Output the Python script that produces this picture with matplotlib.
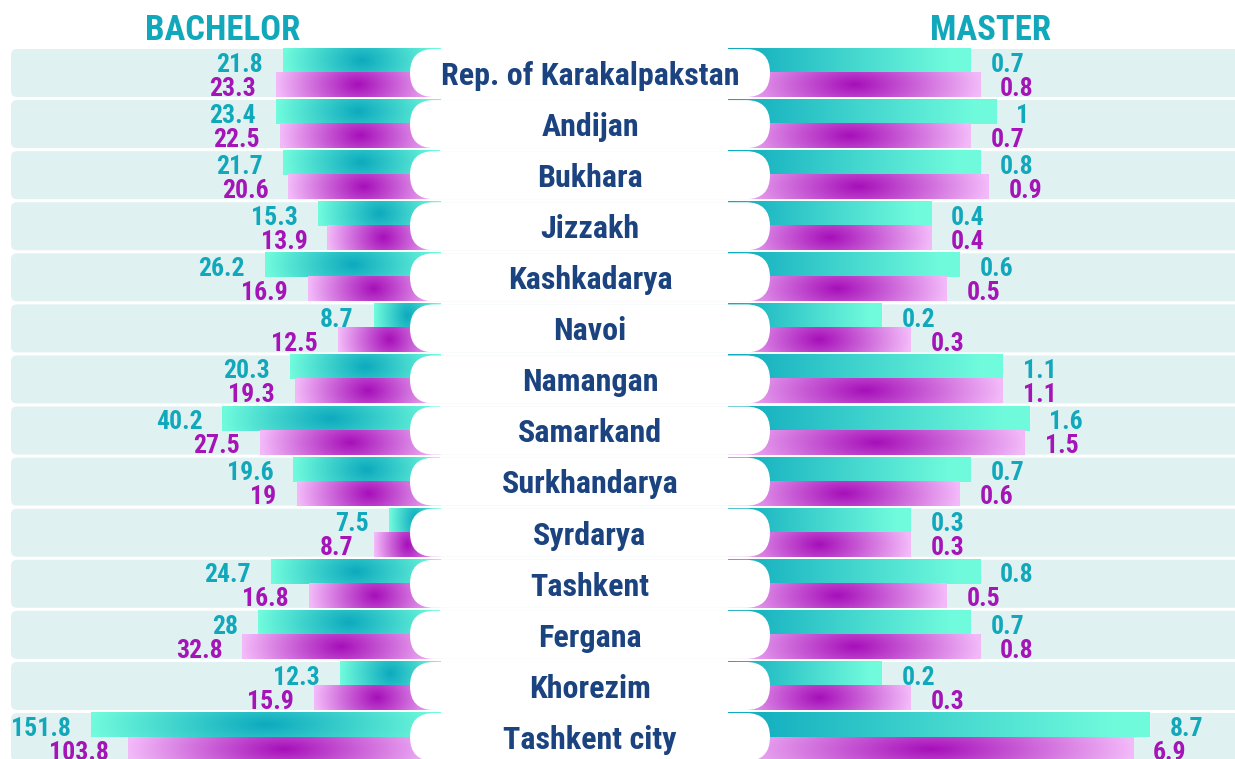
import numpy as np
import matplotlib
matplotlib.use("Agg")
import matplotlib.pyplot as plt
from matplotlib.patches import FancyBboxPatch
from matplotlib import font_manager
from matplotlib.colors import to_rgb

# ---------------- data ----------------
regions = ["Rep. of Karakalpakstan", "Andijan", "Bukhara", "Jizzakh", "Kashkadarya",
           "Navoi", "Namangan", "Samarkand", "Surkhandarya", "Syrdarya", "Tashkent",
           "Fergana", "Khorezim", "Tashkent city"]
bachelor_a = [21.8, 23.4, 21.7, 15.3, 26.2, 8.7, 20.3, 40.2, 19.6, 7.5, 24.7, 28, 12.3, 151.8]
bachelor_b = [23.3, 22.5, 20.6, 13.9, 16.9, 12.5, 19.3, 27.5, 19, 8.7, 16.8, 32.8, 15.9, 103.8]
master_a = [0.7, 1, 0.8, 0.4, 0.6, 0.2, 1.1, 1.6, 0.7, 0.3, 0.8, 0.7, 0.2, 8.7]
master_b = [0.8, 0.7, 0.9, 0.4, 0.5, 0.3, 1.1, 1.5, 0.6, 0.3, 0.5, 0.8, 0.3, 6.9]
panel_titles = ["BACHELOR", "MASTER"]

# ---------------- style ----------------
TEAL_TXT = "#12a8bb"
PURP_TXT = "#a414b6"
NAVY = "#1b4380"
ROW_BG = "#e0f1f1"
TEAL_DARK, TEAL_LIGHT = to_rgb("#0daabe"), to_rgb("#70fbdc")
PURP_DARK, PURP_LIGHT = to_rgb("#a60fb9"), to_rgb("#f3baf9")

names = {f.name for f in font_manager.fontManager.ttflist}
if "Roboto Condensed" in names:
    FAM = "Roboto Condensed"
    FS_TITLE, FS_VAL, FS_NAME = 25, 18.5, 23
else:
    FAM = "Roboto"
    FS_TITLE, FS_VAL, FS_NAME = 22, 17, 19

W, H = 1235, 759
fig = plt.figure(figsize=(W / 100, H / 100), dpi=100)
fig.patch.set_facecolor("white")

n = len(regions)
pitch = 51.08
top_c = 73.0
ax_top = top_c - pitch / 2
ax_h = n * pitch
y_bottom_frac = (H - (ax_top + ax_h)) / H
h_frac = ax_h / H

# background axes (pixel coords)
bg = fig.add_axes([0, 0, 1, 1], zorder=0)
bg.set_xlim(0, W); bg.set_ylim(0, H); bg.axis("off")

# data axes
axL = fig.add_axes([0, y_bottom_frac, 440 / W, h_frac], zorder=1)
axR = fig.add_axes([728 / W, y_bottom_frac, (W - 728) / W, h_frac], zorder=1)
for ax in (axL, axR):
    ax.set_xscale("log")
    ax.set_ylim(n - 0.5, -0.5)
    ax.axis("off")
axL.set_xlim(379.6, 4.46)
axR.set_xlim(0.0229, 28.97)

# overlay axes (pixel coords)
ov = fig.add_axes([0, 0, 1, 1], zorder=2)
ov.axis("off")

ypos = np.arange(n)
bh = 0.47

baseL = axL.get_xlim()[1]
baseR = axR.get_xlim()[0]
barsLa = axL.barh(ypos - bh / 2, np.array(bachelor_a) - baseL, left=baseL, height=bh,
                  color=TEAL_LIGHT, linewidth=0)
barsLb = axL.barh(ypos + bh / 2, np.array(bachelor_b) - baseL, left=baseL, height=bh,
                  color=PURP_LIGHT, linewidth=0)
barsRa = axR.barh(ypos - bh / 2, np.array(master_a) - baseR, left=baseR, height=bh,
                  color=TEAL_LIGHT, linewidth=0)
barsRb = axR.barh(ypos + bh / 2, np.array(master_b) - baseR, left=baseR, height=bh,
                  color=PURP_LIGHT, linewidth=0)


def gradient_image(patch, dark, light, mode):
    bb = patch.get_window_extent()
    x0, x1, y0, y1 = bb.x0, bb.x1, bb.y0, bb.y1
    nx = max(int(np.ceil(x1 - x0)), 2)
    ny = max(int(np.ceil(y1 - y0)), 2)
    xs = np.linspace(0, 1, nx)
    ys = np.linspace(-1, 1, ny)
    X, Y = np.meshgrid(xs, ys)
    if mode == "sym":
        u = np.abs(X - 0.5) * 2
        t = np.clip(np.sqrt(u ** 2 + (0.25 * Y) ** 2), 0, 1)
    else:
        t = np.clip(X / 0.92, 0, 1)
    d = np.array(dark)[None, None, :]
    l = np.array(light)[None, None, :]
    img = d + (l - d) * t[:, :, None]
    ov.imshow(img, extent=(x0, x1, y0, y1), origin="lower", aspect="auto",
              interpolation="bilinear", zorder=1)


for p in barsLa.patches:
    gradient_image(p, TEAL_DARK, TEAL_LIGHT, "sym")
for p in barsLb.patches:
    gradient_image(p, PURP_DARK, PURP_LIGHT, "sym")
for p in barsRa.patches:
    gradient_image(p, TEAL_DARK, TEAL_LIGHT, "lin")
for p in barsRb.patches:
    gradient_image(p, PURP_DARK, PURP_LIGHT, "sym")

ov.set_xlim(0, W)
ov.set_ylim(0, H)

row_h = 48
pill_x0, pill_x1 = 410, 770
for i, name in enumerate(regions):
    yc = axL.transData.transform((baseL, i))[1]
    bg.add_patch(FancyBboxPatch((11, yc - row_h / 2), W + 20, row_h,
                                boxstyle="round,pad=0,rounding_size=6",
                                fc=ROW_BG, ec="none"))
    ov.add_patch(FancyBboxPatch((pill_x0, yc - row_h / 2), pill_x1 - pill_x0, row_h,
                                boxstyle=f"round,pad=0,rounding_size={row_h / 2}",
                                fc="white", ec="none", zorder=3))
    cap = FS_NAME * 100 / 72 * 0.711
    ov.text((pill_x0 + pill_x1) / 2, yc - cap / 2 - 0.5, name, ha="center", va="baseline",
            fontsize=FS_NAME, fontweight="bold", color=NAVY, family=FAM, zorder=4)

# value labels
cap_v = FS_VAL * 100 / 72 * 0.711
dy = -(cap_v / 2 + 1.5)
for i in range(n):
    axL.annotate(f"{bachelor_a[i]:g}", xy=(bachelor_a[i], i - bh / 2), xytext=(-20, dy),
                 textcoords="offset pixels", ha="right", va="baseline", fontsize=FS_VAL,
                 fontweight="bold", color=TEAL_TXT, family=FAM, annotation_clip=False)
    axL.annotate(f"{bachelor_b[i]:g}", xy=(bachelor_b[i], i + bh / 2), xytext=(-20, dy),
                 textcoords="offset pixels", ha="right", va="baseline", fontsize=FS_VAL,
                 fontweight="bold", color=PURP_TXT, family=FAM, annotation_clip=False)
    axR.annotate(f"{master_a[i]:g}", xy=(master_a[i], i - bh / 2), xytext=(20, dy),
                 textcoords="offset pixels", ha="left", va="baseline", fontsize=FS_VAL,
                 fontweight="bold", color=TEAL_TXT, family=FAM, annotation_clip=False)
    axR.annotate(f"{master_b[i]:g}", xy=(master_b[i], i + bh / 2), xytext=(20, dy),
                 textcoords="offset pixels", ha="left", va="baseline", fontsize=FS_VAL,
                 fontweight="bold", color=PURP_TXT, family=FAM, annotation_clip=False)

# panel titles
fig.text(223 / W, 1 - 40 / H, panel_titles[0], ha="center", va="baseline",
         fontsize=FS_TITLE, fontweight="bold", color=TEAL_TXT, family=FAM)
fig.text(991 / W, 1 - 40 / H, panel_titles[1], ha="center", va="baseline",
         fontsize=FS_TITLE, fontweight="bold", color=TEAL_TXT, family=FAM)

fig.savefig("out.png", dpi=100, facecolor="white")
